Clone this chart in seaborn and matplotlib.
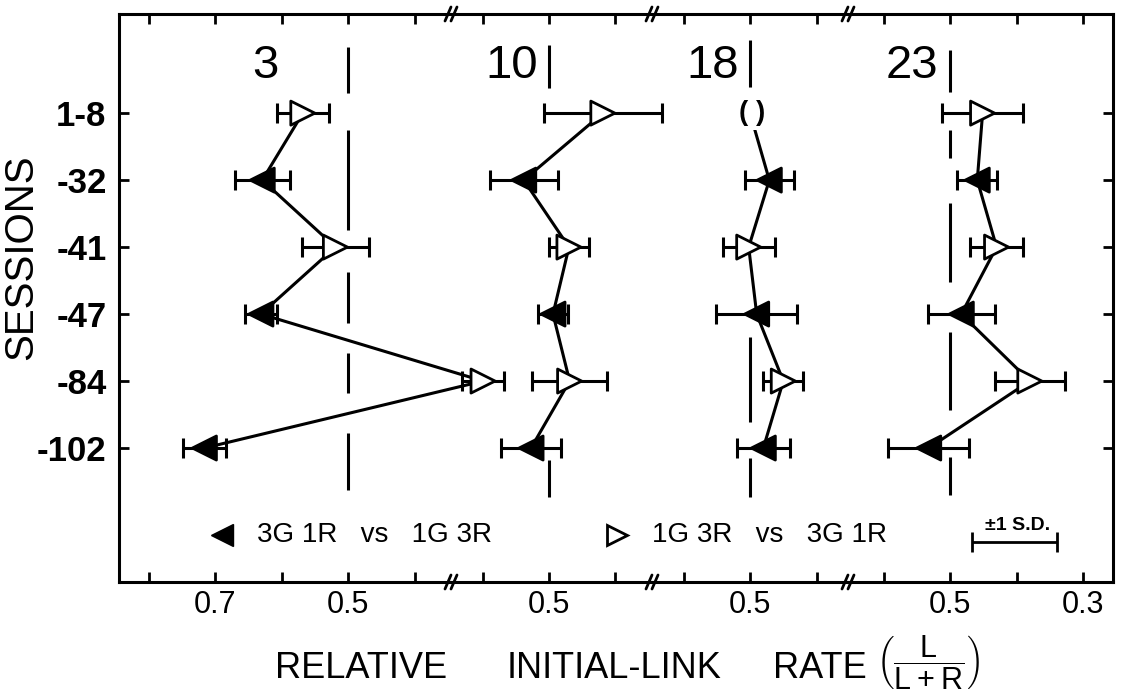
import numpy as np
import pandas as pd
import seaborn as sns
import matplotlib.pyplot as plt
from matplotlib.lines import Line2D

sessions = ["1-8", "-32", "-41", "-47", "-84", "-102"]
condition = ["1G 3R vs 3G 1R", "3G 1R vs 1G 3R"] * 3
panels = ["3", "10", "18", "23"]

rate_3 = [0.568, 0.629, 0.519, 0.631, 0.297, 0.716]
sd_3 = [0.039, 0.041, 0.050, 0.024, 0.031, 0.032]
rate_10 = [0.419, 0.538, 0.470, 0.494, 0.469, 0.527]
sd_10 = [0.089, 0.051, 0.030, 0.022, 0.056, 0.045]
rate_18 = [0.500, 0.471, 0.502, 0.490, 0.450, 0.480]  # 1-8 shown as "( )"
sd_18 = [np.nan, 0.037, 0.039, 0.061, 0.030, 0.040]
rate_23 = [0.451, 0.459, 0.430, 0.483, 0.380, 0.532]
sd_23 = [0.061, 0.030, 0.040, 0.050, 0.053, 0.061]

frames = []
for p, r, s in zip(panels, [rate_3, rate_10, rate_18, rate_23], [sd_3, sd_10, sd_18, sd_23]):
    frames.append(pd.DataFrame({"panel": p, "session": sessions, "row": range(6),
                                "cond": condition, "rate": r, "sd": s}))
df = pd.concat(frames, ignore_index=True)

sns.set_theme(style="white", rc={"text.color": "black", "axes.edgecolor": "black",
                                 "xtick.color": "black", "ytick.color": "black"})
REG = ["Liberation Sans", "DejaVu Sans"]
plt.rcParams["font.family"] = REG
plt.rcParams["lines.scale_dashes"] = False
plt.rcParams["mathtext.fontset"] = "custom"
plt.rcParams["mathtext.rm"] = "Liberation Sans"

W, H = 1123, 699
fig = plt.figure(figsize=(W / 100, H / 100), dpi=100)
gs = fig.add_gridspec(1, 4, left=119 / W, right=1113 / W, bottom=117 / H, top=685 / H,
                      width_ratios=[332, 201, 196, 265], wspace=0)
axes = [fig.add_subplot(gs[0, i]) for i in range(4)]

xlims = [(0.8444, 0.3452), (0.6474, 0.3451), (0.6474, 0.3527), (0.6534, 0.2549)]
xticks = [[0.8, 0.7, 0.6, 0.5, 0.4], [0.6, 0.5, 0.4], [0.6, 0.5, 0.4], [0.6, 0.5, 0.4, 0.3]]
# 0.5 reference line: span (axes fraction) and dash pattern in px, from bottom up
ref_span = [(0.162, 0.942), (0.150, 0.945), (0.150, 0.954), (0.153, 0.937)]
ref_dash = [[57, 40, 40, 30, 51, 42, 100, 37, 46, 100],
            [37, 372, 43, 100],
            [39, 36, 85, 250, 47, 100],
            [38, 47, 78, 50, 79, 45, 28, 38, 42, 100]]
label_x = [0.604, 0.517, 0.517, 0.517]

pal = {"3G 1R vs 1G 3R": "black", "1G 3R vs 3G 1R": "white"}
mk = {"3G 1R vs 1G 3R": "<", "1G 3R vs 3G 1R": ">"}

for i, (ax, p) in enumerate(zip(axes, panels)):
    ax.patch.set_visible(False)
    d = df[df.panel == p]
    lo, hi = ref_span[i]
    ax.axvline(0.5, ymin=lo, ymax=hi, color="black", lw=2.2,
               linestyle=(0, tuple(v / 1.389 for v in ref_dash[i])))
    sns.lineplot(data=d, x="rate", y="row", sort=False, estimator=None, color="black",
                 lw=2.2, ax=ax, clip_on=False, zorder=2)
    m = d[d.sd.notna()]
    eb = ax.errorbar(m.rate, m.row, xerr=m.sd, fmt="none", ecolor="black", elinewidth=2.2,
                     capsize=7, capthick=2.2, zorder=3)
    for art in eb.lines[1] + eb.lines[2]:
        art.set_clip_on(False)
    sns.scatterplot(data=m, x="rate", y="row", hue="cond", style="cond", palette=pal,
                    markers=mk, s=300, edgecolor="black", linewidth=2, ax=ax,
                    legend=False, zorder=4, clip_on=False)
    miss = d[d.sd.isna()]
    for _, r in miss.iterrows():
        ax.text(r.rate - 0.003, r.row, "( )", ha="center", va="center", fontsize=20,
                fontweight="bold", zorder=3, bbox=dict(fc="white", ec="none", pad=3))
    ax.text(label_x[i], 0.908, p, transform=ax.get_xaxis_transform(), ha="right",
            va="center", fontsize=34)

    ax.set_xlim(*xlims[i])
    ax.set_ylim(7.0, -1.48)
    ax.set_xticks(xticks[i])
    ax.set_xticklabels([f"{t:.1f}" if round(t, 1) in (0.7, 0.5, 0.3) else "" for t in xticks[i]])
    ax.set_xlabel("")
    ax.set_ylabel("")
    ax.tick_params(axis="x", direction="in", top=True, bottom=True, length=7, width=2,
                   labelsize=22, pad=6)
    for s in ax.spines.values():
        s.set_linewidth(2.2)
        s.set_color("black")
    if i > 0:
        ax.spines["left"].set_visible(False)
    if i < 3:
        ax.spines["right"].set_visible(False)
    ax.set_yticks(range(6))
    if i == 0:
        ax.set_yticklabels(sessions, fontweight="bold", fontsize=25)
        ax.tick_params(axis="y", direction="in", left=True, right=False, length=7,
                       width=2, pad=9)
    elif i == 3:
        ax.tick_params(axis="y", direction="in", left=False, right=True, labelleft=False,
                       length=7, width=2)
    else:
        ax.tick_params(axis="y", left=False, right=False, labelleft=False)

# axis break marks
for ax in axes[:3]:
    x = ax.get_position().x1
    for y in (117 / H, 685 / H):
        for off in (-3, 3):
            fig.add_artist(Line2D([x + (off - 3) / W, x + (off + 3) / W],
                                  [y - 7 / H, y + 7 / H], color="black", lw=2,
                                  transform=fig.transFigure))

# legend
ly = (H - 535) / H
fig.add_artist(Line2D([222 / W], [ly], marker="<", ms=16, color="black",
                      transform=fig.transFigure))
fig.text(257 / W, ly, "3G 1R   vs   1G 3R", fontsize=20, va="center", ha="left")
fig.add_artist(Line2D([617 / W], [ly], marker=">", ms=15, mfc="white",
                      mec="black", mew=2, transform=fig.transFigure))
fig.text(652 / W, ly, "1G 3R   vs   3G 1R", fontsize=20, va="center", ha="left")
ax4 = axes[3]
sdkey = ax4.errorbar([0.628], [0.070], xerr=[0.160], transform=ax4.transAxes, fmt="none",
                     ecolor="black", elinewidth=2, capsize=7, capthick=2)
for art in sdkey.lines[1] + sdkey.lines[2]:
    art.set_clip_on(False)
ax4.text(0.638, 0.085, "±1 S.D.", transform=ax4.transAxes, ha="center", va="bottom",
         fontsize=14, fontweight="bold")
ax4.set_xlim(*xlims[3])

fig.text(21 / W, (H - 257) / H, "SESSIONS", rotation=90, fontsize=29, ha="center", va="center")
for word, cx in [("RELATIVE", 361), ("INITIAL-LINK", 614), ("RATE", 820)]:
    fig.text(cx / W, 21 / H, word, fontsize=26, ha="center", va="baseline")
fig.text(928 / W, 37 / H, r"$\left(\dfrac{\mathrm{L}}{\mathrm{L + R}}\right)$", fontsize=22,
         ha="center", va="center")

fig.savefig("out.png", dpi=100)
